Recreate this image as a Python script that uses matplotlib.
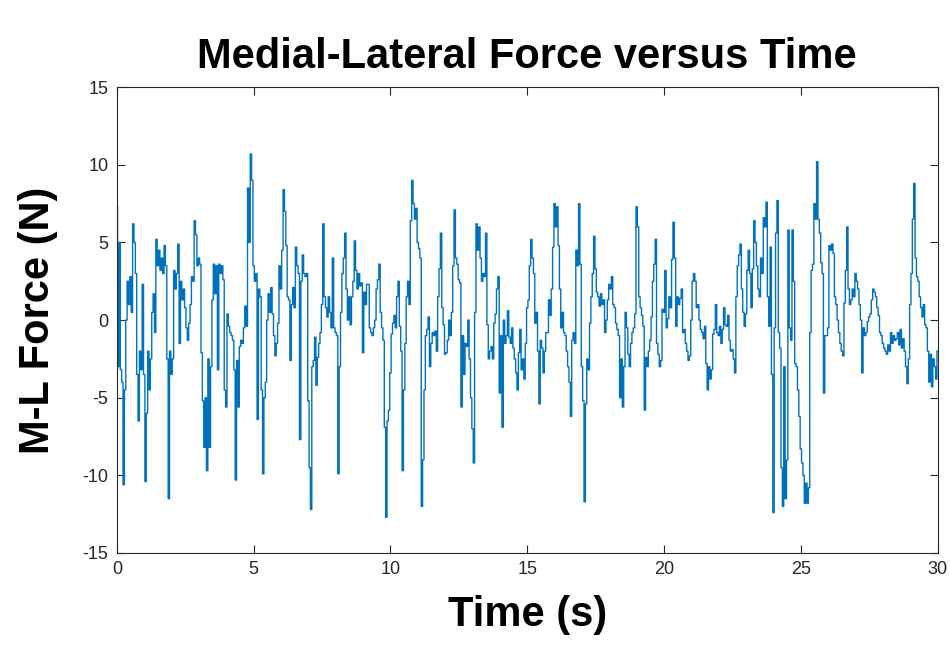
import numpy as np
import matplotlib
matplotlib.use('Agg')
import matplotlib.pyplot as plt

# M-L force, one value every 0.05 s, in 5 s chunks
DT = 0.05
force_00_05 = [7.3, -3.0, 5.0, -3.2, -4.0, -10.6, -4.5, 0.0, 2.5, 1.0,
               2.8, 0.5, 6.2, 5.0, 3.0, -3.5, -6.5, -2.0, -3.2, 2.3,
               -3.5, -10.4, -6.0, -2.0, -4.5, -2.5, 0.5, 1.7, -0.8, 5.2,
               3.5, 4.5, 3.2, 4.0, 3.0, 4.8, 3.5, -2.5, -11.5, -2.0,
               -3.5, -2.5, 3.2, 2.0, 3.0, 4.9, -1.5, 2.5, 1.3, 2.0,
               0.8, -0.5, -1.3, -0.2, 1.0, 2.8, 2.5, 6.4, 5.5, 3.5,
               4.0, 3.6, -2.1, -5.2, -8.2, -5.0, -9.7, -2.5, -8.2, -3.0,
               1.3, 3.6, 1.7, 3.5, -3.2, 3.6, 3.0, 3.5, 2.6, -4.5,
               -5.6, 0.4, -0.4, -0.8, -1.0, -1.3, -3.2, -10.3, -2.6, -5.6,
               -1.7, -1.3, -1.5, -0.5, 0.9, -0.4, 8.5, 5.0, 10.7, 9.0]
force_05_10 = [3.5, 2.5, 3.0, -6.4, 2.0, 1.5, -4.5, -9.9, -5.0, -4.0,
               0.0, 1.7, 0.5, 2.1, 0.4, -1.0, -2.3, -1.5, -0.2, 3.5,
               2.0, 4.5, 8.4, 7.0, 4.8, 1.5, 1.3, -2.6, 1.0, 2.1,
               0.8, 4.7, 3.5, 3.0, -7.7, 2.5, 4.2, 3.0, 2.8, 3.0,
               -5.2, -9.5, -12.2, -3.0, -2.6, -1.1, -4.2, -2.4, -1.5, -0.8,
               1.0, 6.2, 1.5, 0.8, 0.2, 1.5, 0.5, -0.5, 4.0, -0.5,
               -0.8, -1.0, -9.9, -3.0, 0.5, 3.0, 4.0, 5.6, 2.0, 0.0,
               1.5, -0.3, 1.5, 2.5, 5.1, 3.2, 2.0, 3.0, 2.2, 2.4,
               -2.1, 1.8, 1.0, 2.3, 2.3, -0.5, -0.8, -1.0, -0.5, 0.0,
               2.0, 2.6, 3.6, 0.5, -0.5, -1.3, -6.9, -12.7, -6.5, -5.8]
force_10_15 = [-3.4, -0.9, -0.2, 0.3, -0.5, 1.5, 2.5, -0.4, -2.0, -9.7,
               -4.5, -1.5, 1.5, 2.5, 1.0, 6.4, 9.0, 7.5, 6.5, 7.2,
               5.0, 4.6, 4.0, -12.0, -9.0, -4.5, -1.0, -0.6, 0.2, -3.0,
               -1.5, -0.8, -1.0, -0.7, -2.0, 1.5, 3.3, 5.6, 0.8, -0.3,
               -2.2, -2.1, -1.3, 0.0, -1.0, 0.5, 3.5, 7.1, 4.0, 3.6,
               2.6, 2.4, -5.6, -1.0, -3.5, -1.5, -1.7, 0.0, -2.5, -5.0,
               -7.0, -9.2, 0.5, 6.2, 4.5, 6.0, 4.0, 2.5, 3.0, 2.8,
               5.6, -0.3, -2.5, -2.0, -1.7, -2.5, -0.2, 0.4, 2.0, 2.8,
               -4.7, -1.0, -6.9, 0.0, -1.5, -1.0, 0.6, -1.1, -1.5, -0.5,
               -1.8, -2.5, -3.4, -4.5, -2.1, -0.6, -3.2, -2.5, -3.8, -1.5]
force_15_20 = [0.8, 1.3, 3.5, 5.2, 4.0, 3.0, -0.2, 0.5, -2.0, -5.4,
               -1.3, -1.8, -3.4, -2.0, -0.8, -0.8, 1.3, 0.3, 2.0, 4.7,
               7.5, 6.0, 7.3, 4.8, 2.0, -0.5, 0.5, -0.8, -1.0, -2.0,
               -3.0, -4.0, -6.2, -1.3, -0.8, -1.5, 4.5, 3.5, 7.5, 3.6,
               -3.0, -5.2, -11.7, -5.4, -2.5, -3.2, -0.2, 1.5, 3.0, 5.4,
               3.3, 1.8, 1.5, 0.9, 1.7, 1.0, 1.3, -0.8, 0.0, 1.3,
               2.3, 2.0, 2.8, 1.0, 0.8, -0.2, -0.6, -1.0, -5.0, -2.5,
               -5.6, -3.0, 0.5, -0.5, -2.2, -3.0, -1.5, -0.8, -0.5, 0.4,
               7.3, 6.0, 1.5, 0.8, 0.3, -0.4, -5.8, -2.4, -3.0, -2.0,
               -1.3, 0.2, 2.5, 3.6, 5.2, -1.5, -2.2, -3.0, -2.6, 0.7]
force_20_25 = [0.5, 3.2, -0.5, 0.1, 1.5, 0.8, 3.9, 6.3, 4.0, -0.4,
               1.5, 1.0, 1.4, 2.0, -0.8, -0.6, -1.5, -2.0, -2.6, -2.3,
               0.0, 2.5, 3.0, 2.5, 0.8, 1.0, 0.0, -0.6, -0.8, -1.2,
               -0.4, -2.8, -4.5, -3.0, -3.8, -3.2, -0.9, -0.6, 1.0, -0.8,
               -1.0, -0.4, -1.5, -0.6, 0.8, -0.3, -0.4, 0.3, -1.3, -2.0,
               -1.9, -2.5, -3.4, 1.5, 3.5, 4.2, 4.9, 2.0, 0.5, -0.4,
               0.4, 3.2, 4.5, 3.0, 0.8, 3.3, 6.4, 5.0, 3.5, 2.0,
               1.5, 4.0, 3.0, 6.6, 6.0, 7.6, 1.5, -0.4, 4.7, -3.5,
               -12.4, -0.5, 5.6, 7.7, -0.8, -1.8, -9.5, -12.0, -3.0, -11.5,
               -9.0, 5.8, -0.5, -1.3, 5.8, 2.5, -2.8, -3.0, -4.5, -6.2]
force_25_30 = [-8.3, -9.2, -10.0, -11.8, -10.5, -11.8, -10.8, -0.8, 3.2, 3.6,
               7.5, 6.5, 10.2, 6.5, 5.6, 3.7, 3.0, -4.7, -1.0, -1.0,
               -0.5, 4.8, 4.5, 4.9, 4.3, 1.5, 1.0, 0.0, -0.8, -1.5,
               -2.0, -2.3, 1.1, 3.2, 6.0, 2.0, 1.0, 1.3, 2.0, 1.5,
               3.0, 2.5, 2.0, 1.0, 0.0, -3.4, -0.5, -1.0, -0.8, -0.1,
               0.2, 0.4, 1.3, 2.0, 1.8, 1.5, 0.8, 0.3, -0.8, -1.0,
               -1.5, -1.8, -2.0, -2.2, -1.6, -2.0, -0.8, -1.5, -1.0, -1.3,
               -1.2, -0.8, -1.6, -0.6, -1.8, -1.2, -2.0, -3.0, -4.1, -2.5,
               1.0, 3.0, 6.5, 8.8, 4.0, 2.8, 2.5, 1.5, 0.8, 0.2,
               1.0, -0.3, -0.5, -2.0, -4.0, -2.2, -4.3, -2.5, -3.0, -3.8,
               -2.0]

force = np.concatenate([force_00_05, force_05_10, force_10_15,
                        force_15_20, force_20_25, force_25_30])
time = np.arange(len(force)) * DT

x_ticks = [0, 5, 10, 15, 20, 25, 30]
y_ticks = [-15, -10, -5, 0, 5, 10, 15]

plt.rcParams['font.family'] = ['Liberation Sans', 'DejaVu Sans']
plt.rcParams['axes.unicode_minus'] = False
axis_col = '#262626'

fig = plt.figure(figsize=(9.5, 6.46), dpi=100)
ax = fig.add_axes([0.123, 0.144, 0.864, 0.721])

ax.plot(time, force, color='#0072BD', linewidth=1.0, drawstyle='steps-mid')

ax.set_xlim(0, 30)
ax.set_ylim(-15, 15)
ax.set_xticks(x_ticks)
ax.set_yticks(y_ticks)
ax.tick_params(direction='in', length=6, width=0.8, top=True, right=True,
               labelsize=13, colors=axis_col, pad=6)
for sp in ax.spines.values():
    sp.set_color(axis_col)
    sp.set_linewidth(0.8)

ax.set_title('Medial-Lateral Force versus Time', fontsize=30,
             fontweight='bold', pad=14)
ax.set_xlabel('Time (s)', fontsize=30, fontweight='bold')
ax.set_ylabel('M-L Force (N)', fontsize=30, fontweight='bold')
ax.xaxis.set_label_coords(0.5, -0.09)
ax.yaxis.set_label_coords(-0.072, 0.5)

fig.savefig('out.png', dpi=100)
